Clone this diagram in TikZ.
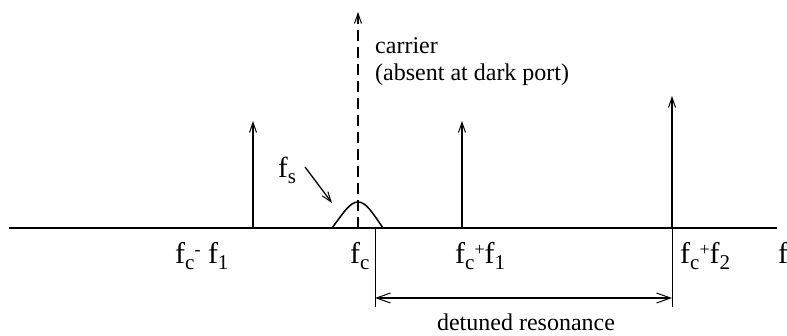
\documentclass[tikz,border=0pt]{standalone}
\usepackage{fontspec}
\setmainfont{Liberation Serif}
\usetikzlibrary{arrows.meta}
\newcommand\lsub[1]{\raisebox{-0.22em}{\fontsize{21}{21}\selectfont #1}}
\newcommand\lsup[1]{\raisebox{0.25em}{\fontsize{18}{18}\selectfont #1}}
\begin{document}
\begin{tikzpicture}[x=1pt,y=-1pt,
  lab/.style={inner sep=0pt,anchor=base west,font=\fontsize{30}{32}\selectfont},
  txt/.style={inner sep=0pt,anchor=base west,font=\fontsize{24}{27}\selectfont},
  spike/.style={line width=1.5pt,-{Straight Barb[length=10pt,width=7pt,line width=1pt]}},
  thin/.style={line width=0.9pt},
  dim/.style={line width=1.5pt,{Straight Barb[length=14pt,width=10pt,line width=1pt]}-{Straight Barb[length=14pt,width=10pt,line width=1pt]}}]
\useasboundingbox (0,0) rectangle (787,335);
% axis
\coordinate (axL) at (9,228);
\coordinate (axR) at (777,228);
\draw[line width=1.8pt] (axL) -- (axR);
% spikes
\coordinate (s1b) at (253,228); \coordinate (s1t) at (253,121);
\coordinate (s2b) at (462,228); \coordinate (s2t) at (462,121);
\coordinate (s3b) at (672,228); \coordinate (s3t) at (672,96);
\coordinate (cb) at (358,228); \coordinate (ct) at (358,12);
\draw[spike] (s1b) -- (s1t);
\draw[spike] (s2b) -- (s2t);
\draw[spike] (s3b) -- (s3t);
\draw[spike,dash pattern=on 11pt off 6pt] (cb) -- (ct);
% signal bump
\coordinate (bl) at (332,228); \coordinate (bp) at (358,202); \coordinate (br) at (383,228);
\draw[line width=1.5pt] (bl) .. controls (344,212) and (350,202) .. (bp) .. controls (366,202) and (372,212) .. (br);
% fs label and arrow
\node[lab,font=\fontsize{29}{31}\selectfont] (fs) at (278,177) {f\lsub{s}};
\coordinate (fsA) at (305,167);
\coordinate (fsB) at (332,203);
\draw[line width=1.3pt,-{Straight Barb[length=10pt,width=7pt,line width=1pt]}] (fsA) -- (fsB);
% carrier text
\node[txt] (car1) at (375,53) {carrier};
\node[txt] (car2) at (375,80) {(absent at dark port)};
% axis labels
\node[lab] (l1) at (175,263) {f\lsub{c}\lsup{-} f\lsub{1}};
\node[lab] (l2) at (350,263) {f\lsub{c}};
\node[lab] (l3) at (455,263) {f\lsub{c}\lsup{+}f\lsub{1}};
\node[lab] (l4) at (680,263) {f\lsub{c}\lsup{+}f\lsub{2}};
\node[lab] (l5) at (778,263) {f};
% detuned resonance dimension
\coordinate (e1t) at (375,228); \coordinate (e1b) at (375,307);
\coordinate (e2b) at (672,307);
\draw[thin] (e1t) -- (e1b);
\draw[thin] (s3b) -- (e2b);
\coordinate (d1) at (375,298); \coordinate (d2) at (672,298);
\draw[dim] (d1) -- (d2);
\node[txt,anchor=base] (det) at (526,330) {detuned resonance};
\end{tikzpicture}
\end{document}
